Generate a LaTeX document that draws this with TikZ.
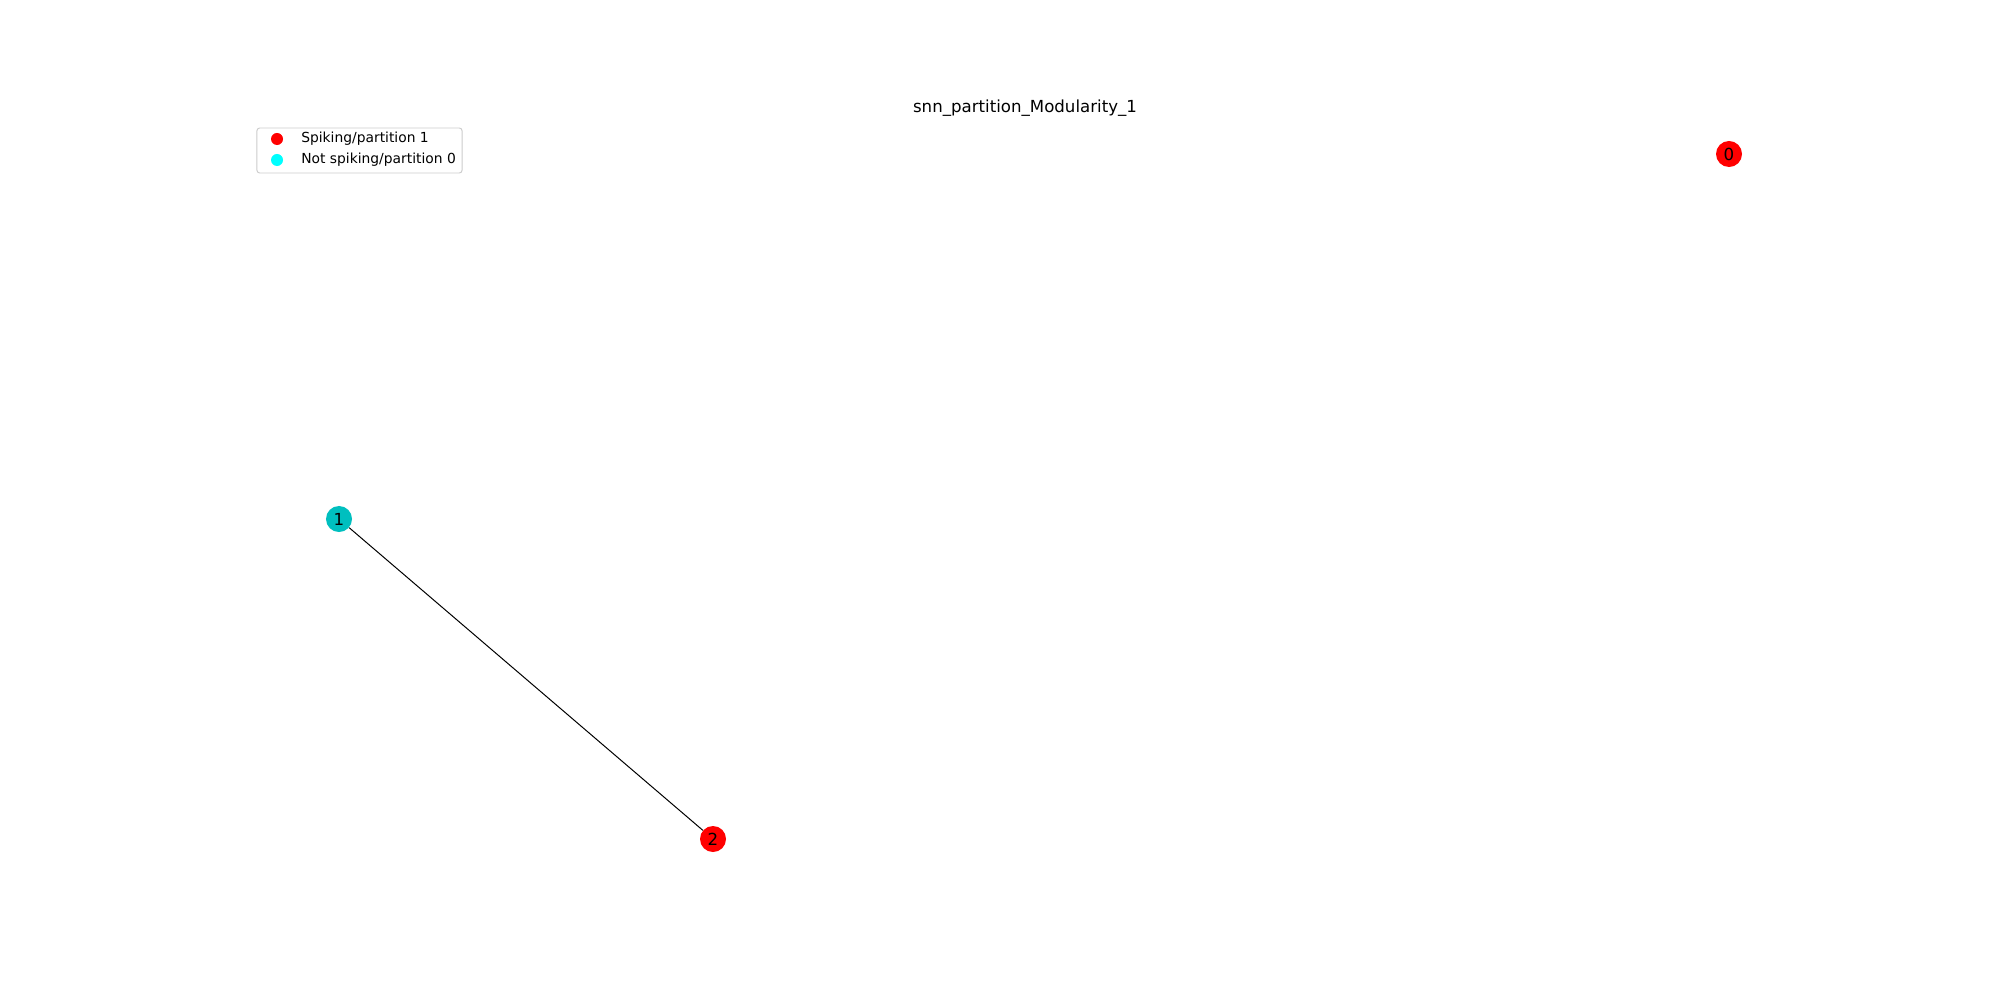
\documentclass[tikz,border=0pt]{standalone}
\usepackage{fontspec}
\setmainfont{DejaVu Sans}
\definecolor{nodered}{HTML}{FF0000}
\definecolor{nodecyan}{HTML}{00BFBF}
\definecolor{legcyan}{HTML}{00FFFF}
\definecolor{legedge}{HTML}{CCCCCC}
\begin{document}
\begin{tikzpicture}[x=0.01in,y=-0.01in,
  gnode/.style={circle,minimum size=0.26in,inner sep=0pt,font=\fontsize{12}{14}\selectfont},
  legmark/.style={circle,minimum size=0.12in,inner sep=0pt},
  legtext/.style={anchor=west,inner sep=0pt,font=\fontsize{10}{12}\selectfont},
  edge/.style={draw=black,line width=0.72pt}]
\useasboundingbox[fill=white] (0,0) rectangle (2000,1000);
\node[font=\fontsize{12}{14}\selectfont] (title) at (1025,108) {snn\_partition\_Modularity\_1};
% legend
\node[draw=legedge,line width=0.7pt,rounded corners=2pt,minimum width=2.05in,minimum height=0.45in,inner sep=0pt] (legend) at (359.5,150.5) {};
\node[legmark,fill=nodered] (lm1) at (277,139) {};
\node[legmark,fill=legcyan] (lm2) at (277,160) {};
\node[legtext] (lt1) at (301,139) {Spiking/partition 1};
\node[legtext] (lt2) at (301,160) {Not spiking/partition 0};
% graph
\node[gnode,fill=nodered] (n0) at (1729,154) {0};
\node[gnode,fill=nodecyan] (n1) at (339,519) {1};
\node[gnode,fill=nodered] (n2) at (713,839) {2};
\draw[edge] (n1) -- (n2);
\end{tikzpicture}
\end{document}
